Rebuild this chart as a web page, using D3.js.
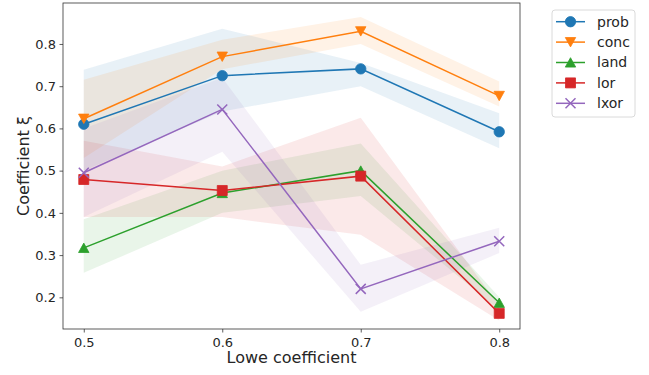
<!DOCTYPE html>
<html>
<head>
<meta charset="utf-8">
<script src="https://cdn.jsdelivr.net/npm/d3@7"></script>
<style>
body{margin:0;background:#fff;}
text{font-family:"DejaVu Sans",sans-serif;fill:#262626;}
</style>
</head>
<body>
<svg id="chart" width="649" height="375"></svg>
<script>

// x values (Lowe coefficient)
var lowe = [0.5, 0.6, 0.7, 0.8];

var names = ['prob', 'conc', 'land', 'lor', 'lxor'];
var colors = ['#1f77b4', '#ff7f0e', '#2ca02c', '#d62728', '#9467bd'];
var markers = ['circle', 'down', 'up', 'square', 'x'];

// mean values
var prob = [0.610, 0.725, 0.741, 0.592];
var conc = [0.623, 0.770, 0.830, 0.677];
var land = [0.317, 0.447, 0.500, 0.187];
var lor  = [0.479, 0.453, 0.487, 0.162];
var lxor = [0.495, 0.645, 0.220, 0.333];

// shaded bands (low / high)
var probLow  = [0.500, 0.640, 0.700, 0.553];
var probHigh = [0.739, 0.836, 0.755, 0.636];
var concLow  = [0.530, 0.740, 0.800, 0.652];
var concHigh = [0.715, 0.810, 0.864, 0.711];
var landLow  = [0.258, 0.400, 0.440, 0.170];
var landHigh = [0.385, 0.500, 0.564, 0.200];
var lorLow   = [0.390, 0.390, 0.348, 0.145];
var lorHigh  = [0.571, 0.510, 0.625, 0.180];
var lxorLow  = [0.390, 0.545, 0.166, 0.305];
var lxorHigh = [0.600, 0.720, 0.277, 0.365];

var xTicks = [0.5, 0.6, 0.7, 0.8];
var yTicks = [0.2, 0.3, 0.4, 0.5, 0.6, 0.7, 0.8];

var means = [prob, conc, land, lor, lxor];
var lows = [probLow, concLow, landLow, lorLow, lxorLow];
var highs = [probHigh, concHigh, landHigh, lorHigh, lxorHigh];

var plotLeft = 63, plotTop = 3, plotRight = 520, plotBottom = 329;

var xScale = d3.scaleLinear().domain([0.485, 0.815]).range([plotLeft, plotRight]);
var yScale = d3.scaleLinear().domain([0.125, 0.897]).range([plotBottom, plotTop]);

var svg = d3.select('#chart');

// marker path, centred on 0,0
function markerPath(type) {
	if (type == 'circle') return d3.symbol(d3.symbolCircle, 85)();
	if (type == 'square') return 'M-5,-5H5V5H-5Z';
	if (type == 'down') return 'M-5.2,-4.6L5.2,-4.6L0,4.8Z';
	if (type == 'up') return 'M-5.2,4.6L5.2,4.6L0,-4.8Z';
	return 'M-5,-5L5,5M-5,5L5,-5';
}

function drawMarker(g, type, color, x, y) {
	var p = g.append('path')
		.attr('d', markerPath(type))
		.attr('transform', 'translate(' + x + ',' + y + ')');
	if (type == 'x') {
		p.attr('fill', 'none').attr('stroke', color).attr('stroke-width', 1.5);
	} else {
		p.attr('fill', color).attr('stroke', color).attr('stroke-width', 0.8);
	}
}

// bands first (they sit below lines)
var area = d3.area()
	.x(function(d){ return xScale(d.x); })
	.y0(function(d){ return yScale(d.lo); })
	.y1(function(d){ return yScale(d.hi); });

names.forEach(function(n, i){
	var pts = lowe.map(function(x, j){ return {x: x, lo: lows[i][j], hi: highs[i][j]}; });
	svg.append('path')
		.datum(pts)
		.attr('fill', colors[i])
		.attr('fill-opacity', 0.1)
		.attr('d', area);
});

var lineGen = d3.line()
	.x(function(d){ return xScale(d.x); })
	.y(function(d){ return yScale(d.y); });

names.forEach(function(n, i){
	var pts = lowe.map(function(x, j){ return {x: x, y: means[i][j]}; });
	var g = svg.append('g');
	g.append('path')
		.datum(pts)
		.attr('fill', 'none')
		.attr('stroke', colors[i])
		.attr('stroke-width', 1.5)
		.attr('d', lineGen);
	pts.forEach(function(d){
		drawMarker(g, markers[i], colors[i], xScale(d.x), yScale(d.y));
	});
});

// axes
var xAxisGen = d3.axisBottom(xScale).tickValues(xTicks).tickFormat(d3.format('.1f'))
	.tickSize(3.5).tickPadding(5);
var yAxisGen = d3.axisLeft(yScale).tickValues(yTicks).tickFormat(d3.format('.1f'))
	.tickSize(3.5).tickPadding(3.5);

var xg = svg.append('g').attr('transform', 'translate(0,' + plotBottom + ')').call(xAxisGen);
var yg = svg.append('g').attr('transform', 'translate(' + plotLeft + ',0)').call(yAxisGen);
[xg, yg].forEach(function(g){
	g.attr('font-size', 13).attr('font-family', '"DejaVu Sans", sans-serif');
	g.select('.domain').remove();
	g.selectAll('line').attr('stroke', '#333').attr('stroke-width', 0.8);
	g.selectAll('text').style('font-size', '13px').attr('fill', '#262626');
});

// frame
svg.append('rect')
	.attr('x', plotLeft).attr('y', plotTop)
	.attr('width', plotRight - plotLeft).attr('height', plotBottom - plotTop)
	.attr('fill', 'none').attr('stroke', '#333').attr('stroke-width', 0.8);

// axis labels
svg.append('text')
	.attr('x', (plotLeft + plotRight) / 2).attr('y', 363)
	.attr('text-anchor', 'middle').style('font-size', '16px')
	.text('Lowe coefficient');

svg.append('text')
	.attr('transform', 'translate(29,' + (plotTop + plotBottom) / 2 + ') rotate(-90)')
	.attr('text-anchor', 'middle').style('font-size', '16px')
	.text('Coefficient ξ');

// legend
var legend = svg.append('g');
legend.append('rect')
	.attr('x', 552).attr('y', 10).attr('width', 83).attr('height', 107).attr('rx', 3)
	.attr('fill', '#fff').attr('fill-opacity', 0.8)
	.attr('stroke', '#d0d0d0').attr('stroke-width', 0.8);

names.forEach(function(n, i){
	var y = 21.7 + i * 20.4;
	legend.append('line')
		.attr('x1', 556).attr('x2', 585).attr('y1', y).attr('y2', y)
		.attr('stroke', colors[i]).attr('stroke-width', 1.5);
	drawMarker(legend, markers[i], colors[i], 570.5, y);
	legend.append('text')
		.attr('x', 597).attr('y', y).attr('dy', '0.35em')
		.style('font-size', '14px')
		.text(n);
});

</script>
</body>
</html>
